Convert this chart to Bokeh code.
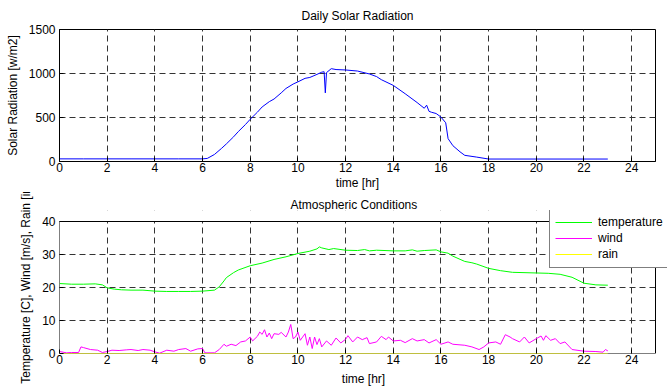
from bokeh.plotting import figure
from bokeh.layouts import column
from bokeh.models import FixedTicker, Range1d, Legend, LegendItem
from bokeh.embed import file_html
from bokeh.resources import INLINE

# ---- data ----
solar_t = [0, 1, 2, 3, 4, 5, 6.0, 6.2, 6.5, 6.8, 7.0, 7.3, 7.5, 7.8, 8.0, 8.3, 8.5, 8.8, 9.0, 9.3, 9.5,
           9.8, 10.0, 10.3, 10.5, 10.8, 11.0, 11.1, 11.15, 11.2, 11.4, 11.6, 12.0, 12.5, 13.0, 13.3,
           13.5, 14.0, 14.5, 15.0, 15.3, 15.4, 15.5, 15.6, 15.8, 16.0, 16.2, 16.3, 16.5, 16.8, 17.0,
           17.5, 18.0, 20.0, 23.0]
solar_v = [30, 30, 30, 30, 30, 30, 30, 35, 80, 150, 200, 280, 340, 420, 480, 560, 620, 680, 710, 780, 830,
           880, 905, 945, 955, 990, 1015, 1020, 780, 1010, 1055, 1045, 1040, 1028, 995, 965,
           930, 865, 770, 670, 605, 640, 570, 560, 545, 505, 440, 260, 180, 110, 70,
           50, 28, 28, 28]

temp_t = [0, 0.5, 1.0, 1.5, 1.8, 2.0, 2.3, 2.6, 3.0, 3.5, 4.0, 4.5, 5.0, 5.5, 6.0, 6.5, 6.7, 6.9, 7.0,
          7.3, 7.5, 8.0, 8.5, 9.0, 9.5, 10.0, 10.5, 10.8, 10.9, 11.0, 11.3, 11.5, 12.0, 12.5, 12.8,
          13.0, 13.3, 14.0, 14.5, 14.8, 15.0, 15.3, 15.8, 16.0, 16.3, 16.5, 17.0, 17.3, 17.5, 18.0,
          18.5, 19.0, 20.0, 20.5, 21.0, 21.5, 22.0, 22.5, 23.0]
temp_v = [21.2, 21.0, 21.0, 21.1, 20.8, 19.9, 19.5, 19.3, 19.2, 19.2, 18.9, 18.8, 18.8, 18.8, 18.9, 19.2, 20.2, 22.0, 23.0,
          24.5, 25.3, 26.6, 27.4, 28.5, 29.3, 30.3, 31.0, 31.7, 32.3, 32.0, 31.5, 31.8, 31.3, 31.2, 31.5,
          31.1, 31.3, 31.1, 31.1, 31.4, 31.0, 31.2, 31.4, 30.8, 30.4, 29.5, 27.9, 27.5, 27.1, 25.8,
          25.1, 24.6, 24.4, 24.3, 24.0, 23.1, 21.3, 20.8, 20.7]

wind_t = [0, 0.3, 0.5, 0.8, 0.9, 1.0, 1.3, 1.6, 1.8, 2.0, 2.2, 2.5, 2.8, 3.0, 3.3, 3.5, 3.8, 4.0, 4.2,
          4.5, 4.8, 5.0, 5.3, 5.5, 5.8, 6.0, 6.1, 6.5, 6.7, 6.9, 7.0, 7.2, 7.4, 7.6, 7.8, 8.0, 8.1,
          8.3, 8.4, 8.5, 8.6, 8.7, 8.8, 8.9, 9.0, 9.2, 9.3, 9.5, 9.6, 9.7, 9.8, 9.9, 10.0, 10.1, 10.3,
          10.4, 10.5, 10.6, 10.7, 10.8, 10.9, 11.0, 11.2, 11.4, 11.6, 11.8, 12.0, 12.1, 12.3, 12.5, 12.7,
          12.9, 13.0, 13.3, 13.5, 13.7, 13.8, 14.0, 14.3, 14.5, 14.8, 15.0, 15.3, 15.5, 15.8, 16.0,
          16.3, 16.5, 17.0, 17.3, 17.6, 17.8, 18.0, 18.3, 18.5, 18.7, 18.9, 19.0, 19.3, 19.5, 19.7,
          20.0, 20.2, 20.3, 20.4, 20.6, 20.8, 21.0, 21.2, 21.5, 22.0, 22.5, 22.8, 22.9, 23.0]
wind_v = [0.6, 0.2, 0.3, 0.3, 2.0, 1.8, 1.2, 1.0, 0.3, 0.6, 1.0, 0.9, 1.1, 1.2, 0.9, 1.2, 1.0, 0.5, 0.1,
          1.0, 0.7, 1.2, 1.5, 0.7, 1.4, 1.5, 0.2, 0.2, 1.2, 2.8, 2.2, 2.8, 2.4, 3.5, 3.8, 5.0, 3.8,
          5.2, 6.5, 5.8, 7.2, 5.0, 6.2, 4.5, 6.0, 5.8, 6.4, 5.0, 6.5, 8.8, 4.5, 5.0, 6.5, 4.0, 6.0,
          2.5, 5.0, 1.5, 5.0, 2.7, 4.5, 2.0, 3.8, 2.5, 4.7, 3.2, 4.3, 5.4, 3.5, 5.0, 4.2,
          4.8, 3.0, 3.5, 5.2, 4.2, 5.0, 3.8, 4.0, 3.3, 4.5, 3.8, 4.2, 3.2, 4.2, 2.8,
          3.5, 2.8, 2.5, 2.0, 1.2, 2.0, 3.2, 3.5, 2.8, 5.7, 5.0, 4.5, 3.5, 5.0, 3.2,
          4.5, 5.3, 4.0, 5.4, 4.0, 4.5, 3.0, 3.5, 1.2, 0.7, 0.6, 0.4, 1.2, 0.8]

rain_t = [0, 23.0]
rain_v = [0, 0]

x_ticks = [0, 2, 4, 6, 8, 10, 12, 14, 16, 18, 20, 22, 24]
solar_ticks = [0, 500, 1000, 1500]
atm_ticks = [0, 10, 20, 30, 40]

X_MAX = 25
SOLAR_MAX = 1500
ATM_MAX = 40

FONT = "Liberation Sans"
FS = "12px"


def style(p, yticks):
    p.title.text_font = FONT
    p.title.text_font_size = FS
    p.title.text_font_style = "normal"
    p.title.text_color = "black"
    for ax in p.xaxis + p.yaxis:
        ax.major_label_text_font = FONT
        ax.major_label_text_font_size = FS
        ax.major_label_text_color = "black"
        ax.axis_label_text_font = FONT
        ax.axis_label_text_font_size = FS
        ax.axis_label_text_font_style = "normal"
        ax.axis_label_text_color = "black"
        ax.axis_line_color = "black"
        ax.major_tick_in = 4
        ax.major_tick_out = 0
        ax.minor_tick_line_color = None
        ax.major_tick_line_color = "black"
    p.xaxis.ticker = FixedTicker(ticks=x_ticks)
    p.yaxis.ticker = FixedTicker(ticks=yticks)
    p.xaxis.major_label_standoff = 1
    p.yaxis.major_label_standoff = 4
    p.xaxis.axis_label_standoff = 1
    p.yaxis.axis_label_standoff = 6
    for g in (p.xgrid, p.ygrid):
        g.grid_line_color = "#333333"
        g.grid_line_dash = "6 4"
        g.grid_line_width = 1
    p.xgrid.ticker = FixedTicker(ticks=x_ticks)
    p.ygrid.ticker = FixedTicker(ticks=yticks)


# ---------- top: solar radiation ----------
p1 = figure(width=667, height=192, output_backend="svg", toolbar_location=None,
            x_range=Range1d(0, X_MAX), y_range=Range1d(0, SOLAR_MAX),
            title="Daily Solar Radiation",
            min_border_left=59, min_border_right=12, min_border_top=29, min_border_bottom=30)
p1.outline_line_color = "black"
p1.line(solar_t, solar_v, line_color="#0000ff", line_width=1)
p1.xaxis.axis_label = "time [hr]"
p1.yaxis.axis_label = "Solar Radiation [w/m2]"
style(p1, solar_ticks)
p1.title.align = "center"
p1.title.standoff = 13

# ---------- bottom: atmospheric conditions ----------
# frame is extended 11 px above and 12 px right of the axes box so the legend
# can stick out of the box as in the reference
x_top = X_MAX + 12 * X_MAX / 596
y_top = ATM_MAX + 11 * ATM_MAX / 132
p2 = figure(width=667, height=198, output_backend="svg", toolbar_location=None,
            x_range=Range1d(0, x_top), y_range=Range1d(0, y_top),
            title="Atmospheric Conditions",
            min_border_left=59, min_border_right=0, min_border_top=18, min_border_bottom=37)
p2.outline_line_color = None
style(p2, atm_ticks)
p2.xaxis.axis_label_standoff = 5
p2.title.standoff = -3
p2.title.align = "left"
p2.title.offset = 231
p2.xaxis.axis_line_color = None
p2.yaxis.axis_line_color = None
# mask grid outside the axes box
p2.quad(left=[0], right=[x_top], bottom=[ATM_MAX], top=[y_top],
        fill_color="white", line_color=None)
p2.quad(left=[X_MAX], right=[x_top], bottom=[0], top=[ATM_MAX],
        fill_color="white", line_color=None)
# axes box
p2.line([0, 0, X_MAX, X_MAX, 0], [0, ATM_MAX, ATM_MAX, 0, 0], line_color="black", line_width=1)

r_t = p2.line(temp_t, temp_v, line_color="#00ff00", line_width=1)
r_w = p2.line(wind_t, wind_v, line_color="#ff00ff", line_width=1)
r_r = p2.line(rain_t, rain_v, line_color="#ffff00", line_width=1)
p2.xaxis.axis_label = "time [hr]"
p2.yaxis.axis_label = "Temperature [C], Wind [m/s], Rain [in.]"

legend = Legend(items=[LegendItem(label="temperature", renderers=[r_t]),
                       LegendItem(label="wind", renderers=[r_w]),
                       LegendItem(label="rain", renderers=[r_r])],
                location=(490, 85), orientation="vertical",
                label_text_font=FONT, label_text_font_size=FS, label_text_color="black",
                glyph_width=37, glyph_height=16, label_height=16, label_standoff=6,
                spacing=0, padding=5, margin=0,
                border_line_color="black", border_line_width=1,
                background_fill_color="white", background_fill_alpha=1)
p2.add_layout(legend, "center")

layout = column(column(p1), column(p2), spacing=0)
open("out.html", "w").write(file_html(layout, INLINE))
